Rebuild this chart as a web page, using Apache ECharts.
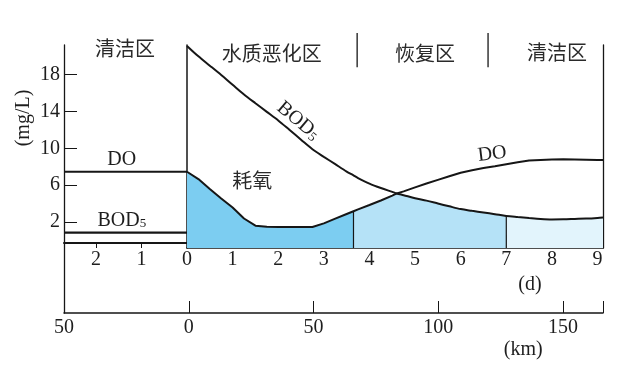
<!DOCTYPE html>
<html><head><meta charset="utf-8">
<script src="https://cdn.jsdelivr.net/npm/echarts@6/dist/echarts.min.js"></script>
<style>html,body{margin:0;padding:0;background:#fff}#c{width:642px;height:366px}</style>
</head><body><div id="c"></div>
<script>
// ---- data (days after outfall, mg/L) ----
const days = [0,0.25,0.5,0.75,1,1.25,1.5,1.75,2,2.25,2.5,2.75,3,3.25,3.5,3.65,3.75,4,4.25,4.5,4.6,4.75,5,5.25,5.5,5.75,6,6.25,6.5,6.75,7,7.25,7.5,7.75,8,8.25,8.5,8.75,9,9.12];
const DO  = [7.45,6.66,5.58,4.55,3.57,2.38,1.60,1.48,1.46,1.46,1.46,1.46,1.85,2.36,2.87,3.17,3.37,3.84,4.33,4.87,5.10,5.32,5.76,6.17,6.57,6.96,7.35,7.61,7.85,8.05,8.27,8.48,8.66,8.72,8.78,8.80,8.79,8.76,8.73,8.72];
const BOD = [21.1,19.97,18.96,17.94,16.88,15.83,14.88,13.95,13.02,11.98,10.93,9.89,9.07,8.27,7.47,7.06,6.77,6.17,5.69,5.27,5.10,4.91,4.58,4.32,4.01,3.70,3.40,3.21,3.03,2.85,2.66,2.54,2.43,2.33,2.28,2.29,2.33,2.37,2.44,2.49];
const cleanDays = [-2.7, 0];
const cleanDO = [7.45, 7.45];
const cleanBOD = [0.84, 0.84];
const zoneBreaks = [3.65, 7];
const zoneColors = ['#7ccdf1', '#b5e2f7', '#e2f4fc'];
const dayTicks = [1,2,3,4,5,6,7,8,9];
const dayLabels = [0,1,2,3,4,5,6,7,8,9];
const upDayLabels = [-2,-1];
const yTicks = [2,6,10,14,18];
const kmTicks = [0,50,100,150,166];
const kmLabels = [-50,0,50,100,150];
const zoneNames = ['清洁区','水质恶化区','恢复区','清洁区'];

const SERIF = "'Liberation Serif','Noto Sans CJK SC',serif";
const CJK = "'Noto Sans CJK SC',sans-serif";
const INK = '#161616';

const Y1MIN = -0.82, YMAX = 21.2, Y0MIN = -0.276;
const fillTop = days.map((d,i)=>Math.min(DO[i], BOD[i]));
const bounds = [days[0], zoneBreaks[0], zoneBreaks[1], days[days.length-1]];
const zones = [0,1,2].map(z => days.map((d,i)=>[d, fillTop[i]]).filter(p => p[0] >= bounds[z] && p[0] <= bounds[z+1]));
const idx = b => days.indexOf(b);

const noSplit = {show:false};
const lbl = (extra) => Object.assign({fontSize:20, fontFamily:SERIF, color:'#1e1e1e'}, extra);

const option = {
  animation: false,
  backgroundColor: '#fff',
  grid: [
    {left:64, top:45, width:123, bottom:123, outerBoundsMode:'none'},
    {left:187, top:45, right:39, bottom:118, outerBoundsMode:'none'},
    {left:64, top:45, right:39, bottom:53, outerBoundsMode:'none'}
  ],
  xAxis: [
    {gridIndex:0, type:'value', min:-2.7, max:0, splitLine:noSplit,
     axisLine:{show:true, onZero:false, lineStyle:{color:INK, width:2}},
     axisTick:{show:true, inside:false, length:5, customValues:upDayLabels, lineStyle:{color:INK, width:1}},
     axisLabel:lbl({customValues:upDayLabels, margin:7, formatter:v=>String(Math.abs(v))})},
    {gridIndex:1, type:'value', min:0, max:9.12, splitLine:noSplit,
     axisLine:{show:true, onZero:false, lineStyle:{color:INK, width:1.5}},
     axisTick:{show:true, inside:true, length:13, customValues:dayTicks, lineStyle:{color:INK, width:1}},
     axisLabel:lbl({customValues:dayLabels, margin:2})},
    {gridIndex:2, type:'value', min:-50, max:166, splitLine:noSplit,
     axisLine:{show:true, onZero:false, lineStyle:{color:INK, width:1.5}},
     axisTick:{show:true, inside:true, length:12, customValues:kmTicks, lineStyle:{color:INK, width:1}},
     axisLabel:lbl({customValues:kmLabels, margin:5, formatter:v=>String(Math.abs(v))})}
  ],
  yAxis: [
    {gridIndex:0, type:'value', min:Y0MIN, max:YMAX, splitLine:noSplit,
     axisLine:{show:false, onZero:false},
     axisTick:{show:true, inside:true, length:13, customValues:yTicks, lineStyle:{color:INK, width:1}},
     axisLabel:lbl({customValues:yTicks, margin:4})},
    {gridIndex:1, type:'value', min:Y1MIN, max:YMAX, splitLine:noSplit,
     axisLine:{show:true, onZero:false, lineStyle:{color:INK, width:1.5}},
     axisTick:{show:false}, axisLabel:{show:false}},
    {gridIndex:1, type:'value', position:'right', min:Y1MIN, max:YMAX, splitLine:noSplit,
     axisLine:{show:true, onZero:false, lineStyle:{color:INK, width:1.3}},
     axisTick:{show:false}, axisLabel:{show:false}},
    {gridIndex:2, type:'value', min:0, max:1, splitLine:noSplit,
     axisLine:{show:true, onZero:false, lineStyle:{color:INK, width:1.3}},
     axisTick:{show:false}, axisLabel:{show:false}}
  ],
  series: [
    ...zones.map((z,k)=>({type:'line', xAxisIndex:1, yAxisIndex:1, data:z, symbol:'none', silent:true, z:1,
      lineStyle:{width:0}, areaStyle:{color:zoneColors[k], opacity:1, origin:'start'}})),
    ...zoneBreaks.map(b=>({type:'line', xAxisIndex:1, yAxisIndex:1, symbol:'none', silent:true, z:2,
      data:[[b, Y1MIN],[b, fillTop[idx(b)]]], lineStyle:{color:INK, width:1.2}})),
    {type:'line', name:'DO', xAxisIndex:1, yAxisIndex:1, symbol:'none', z:3,
     data:days.map((d,i)=>[d, DO[i]]), lineStyle:{color:INK, width:2}},
    {type:'line', name:'BOD5', xAxisIndex:1, yAxisIndex:1, symbol:'none', z:3, smooth:0.3,
     data:days.map((d,i)=>[d, BOD[i]]), lineStyle:{color:INK, width:2}},
    {type:'line', name:'DO clean', xAxisIndex:0, yAxisIndex:0, symbol:'none', z:3,
     data:cleanDays.map((d,i)=>[d, cleanDO[i]]), lineStyle:{color:INK, width:2.2}},
    {type:'line', name:'BOD5 clean', xAxisIndex:0, yAxisIndex:0, symbol:'none', z:3,
     data:cleanDays.map((d,i)=>[d, cleanBOD[i]]), lineStyle:{color:INK, width:2.2}}
  ]
};

const chart = echarts.init(document.getElementById('c'), null, {renderer:'canvas'});
chart.setOption(option);

const px = (d, v) => chart.convertToPixel({xAxisIndex:1, yAxisIndex:1}, [d, v]);
function txt(text, d, v, o) {
  const p = px(d, v);
  return Object.assign({type:'text', x:p[0], y:p[1], silent:true, z:10,
    style:Object.assign({text, fontSize:20, fontFamily:SERIF, fill:'#1e1e1e', align:'center', verticalAlign:'middle'}, (o && o.style) || {})},
    o && o.rotation != null ? {rotation:o.rotation} : {});
}
function vline(d, v1, v2) {
  const a = px(d, v1), b = px(d, v2);
  return {type:'line', silent:true, z:10, shape:{x1:a[0], y1:a[1], x2:b[0], y2:b[1]}, style:{stroke:INK, lineWidth:1.3}};
}
const zonePos = [[-1.36, 20.81], [1.86, 20.32], [5.22, 20.32], [8.11, 20.4]];
const bodRich = {a:{fontSize:20, fontFamily:SERIF, fill:'#1e1e1e', lineHeight:22, verticalAlign:'bottom'},
                 b:{fontSize:13, fontFamily:SERIF, fill:'#1e1e1e', lineHeight:13, verticalAlign:'bottom'}};
const graphics = [
  ...zoneNames.map((n,i)=>txt(n, zonePos[i][0], zonePos[i][1], {style:{fontFamily:CJK, fill:'#2a2a2a'}})),
  vline(3.73, 22.49, 18.8),
  vline(6.60, 22.49, 18.8),
  txt('耗氧', 1.43, 6.55, {style:{fontFamily:CJK, fill:'#2a2a2a'}}),
  txt('DO', -1.43, 8.72),
  txt('{a|BOD}{b|5}', -1.43, 2.28, {style:{rich:bodRich}}),
  txt('{a|BOD}{b|5}', 2.45, 13.05, {style:{rich:bodRich}, rotation:-0.7}),
  txt('DO', 6.69, 9.37, {rotation:0.12}),
  txt('(d)', 7.52, -4.83),
  txt('(km)', 7.37, -11.88),
  txt('(mg/L)', -3.57, 13.28, {rotation:Math.PI/2})
];
chart.setOption({graphic: graphics});
</script>
</body></html>
